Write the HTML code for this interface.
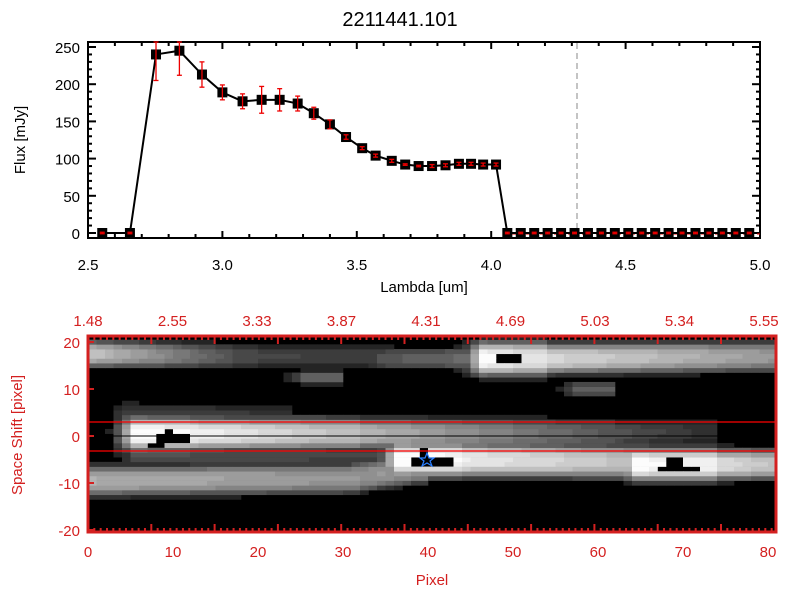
<!DOCTYPE html>
<html><head><meta charset="utf-8">
<style>
body{margin:0;background:#fff;}
svg text{font-family:"Liberation Sans",sans-serif;}
</style></head>
<body>
<svg id="c" width="800" height="600" xmlns="http://www.w3.org/2000/svg">
<rect width="800" height="600" fill="#fff"/>
<text x="400" y="26" font-size="20" text-anchor="middle">2211441.101</text>
<g id="topPlot"></g>
<g id="botPlot"></g>
</svg>
<script>
const lambdas=[2.553,2.656,2.753,2.84,2.924,3.0,3.075,3.146,3.213,3.28,3.34,3.40,3.46,3.52,3.57,3.63,3.68,3.73,3.78,3.83,3.88,3.925,3.97,4.018,4.06,4.11,4.16,4.21,4.26,4.31,4.36,4.41,4.46,4.51,4.56,4.61,4.66,4.71,4.76,4.81,4.86,4.91,4.96];
const flux=[0,0,240,245,213,189,177,179,179,174,161,146,129,114,104,97,92,90,90,91,93,93,92,92,0,0,0,0,0,0,0,0,0,0,0,0,0,0,0,0,0,0,0];
const ferr=[1,1,35,33,17,10,10,18,15,10,8,6,3,2,2,2,1,1,2,2,2,2,2,2,1,1,1,1,1,1,1,1,1,1,1,1,1,1,1,1,1,1,1];
const xTicks=["2.5","3.0","3.5","4.0","4.5","5.0"];
const yTicks=["0","50","100","150","200","250"];
// [xStart,yStart,xEnd,yEnd,brightStart,brightEnd,halfWidth]
const streaks=[[0,17.5,18,17,195,70,2.6],[18,17,34,17,70,60,2.2],[34,16.5,46,16.5,85,110,2.2],
[46,16.5,52,16.5,255,230,3.4],[52,16.5,81,17,220,150,3],
[4,1,22,1,90,70,5.5],[5,0.5,10,0.5,255,250,3.4],[10,0.5,30,0.5,250,190,3.2],[30,0.5,60,0.5,190,90,3],[60,0.5,72,1,90,50,2.5],
[0,-9.5,30,-9,175,150,3],[30,-9,38,-7,150,150,3],[5,-4,35,-4,80,70,2],
[36,-5,42,-5,255,250,3.5],[42,-5,64,-5.5,240,190,3.3],[64,-6,72,-6,255,240,3.3],[72,-6,81,-6,230,190,3],
[25,12.5,28,12.5,95,95,1.4],[57,10,60,10,95,95,1.4]];
// [colMin,colMax,rowMin,rowMax]
const cores=[[8,11,-1,0],[7,8,-2,-2],[9,9,1,1],[48,50,16,17],[38,42,-6,-5],[39,39,-4,-3],[67,71,-7,-7],[68,69,-6,-5]];
const ns="http://www.w3.org/2000/svg";
function el(p,t,a){const e=document.createElementNS(ns,t);for(const k in a)e.setAttribute(k,a[k]);p.appendChild(e);return e;}
const topG=document.getElementById('topPlot');
const X0=88,X1=760,Y0=233,Y1=47;
const sx=v=>X0+(v-2.5)/2.5*(X1-X0);
const sy=v=>Y0+(v)/250*(Y1-Y0);
const fr=el(topG,'rect',{x:X0,y:42,width:X1-X0,height:196,fill:'none',stroke:'#000','stroke-width':2});


for(let i=0;i<=25;i++){const x=X0+i*(X1-X0)/25;const L=i%5==0?7:4;
 el(topG,'line',{x1:x,y1:238,x2:x,y2:238-L,stroke:'#000','stroke-width':2});
 el(topG,'line',{x1:x,y1:42,x2:x,y2:42+L,stroke:'#000','stroke-width':2});}
xTicks.forEach((t,i)=>{const tx=el(topG,'text',{x:sx(+t),y:270,'font-size':15,'text-anchor':'middle'});tx.textContent=t;
 
 });
for(let v=0;v<=260;v+=10){const y=sy(v);if(y<42)break;const L=v%50==0?8:4;
 el(topG,'line',{x1:X0,y1:y,x2:X0+L,y2:y,stroke:'#000','stroke-width':2});
 el(topG,'line',{x1:X1,y1:y,x2:X1-L,y2:y,stroke:'#000','stroke-width':2});}
yTicks.forEach(t=>{const tx=el(topG,'text',{x:80,y:sy(+t)+6,'font-size':15,'text-anchor':'end'});tx.textContent=t;
 
 });
let t1=el(topG,'text',{x:424,y:292,'font-size':15,'text-anchor':'middle'});t1.textContent='Lambda [um]';


let t2=el(topG,'text',{x:0,y:0,'font-size':15,'text-anchor':'middle',transform:'translate(25,140) rotate(-90)'});t2.textContent='Flux [mJy]';


el(topG,'line',{x1:577,y1:43,x2:577,y2:237,stroke:'#888','stroke-dasharray':'6,4','stroke-width':1});
el(topG,'line',{x1:505,y1:234,x2:760,y2:234,stroke:'#e00','stroke-dasharray':'4,3','stroke-width':1});
let pts=lambdas.map((l,i)=>sx(l)+','+sy(flux[i])).join(' ');
const pl=el(topG,'polyline',{points:pts,fill:'none',stroke:'#000','stroke-width':2});


lambdas.forEach((l,i)=>{const x=sx(l),y=sy(flux[i]);
 const m=el(topG,'rect',{x:x-5,y:y-5,width:10,height:10,fill:'#000'});
 
 
 const y1=Math.max(sy(flux[i]+ferr[i]),42),y2=sy(flux[i]-ferr[i]);
 el(topG,'line',{x1:x,y1:y1,x2:x,y2:y2,stroke:'#e00','stroke-width':1.3});
 el(topG,'line',{x1:x-2.5,y1:y1,x2:x+2.5,y2:y1,stroke:'#e00','stroke-width':1.3});
 el(topG,'line',{x1:x-2.5,y1:y2,x2:x+2.5,y2:y2,stroke:'#e00','stroke-width':1.3});
});
const botG=document.getElementById('botPlot');
const R='#d42020';
const BX0=88,PX=8.5,BY0=436,PY=4.7;
const bx=p=>BX0+p*PX, by=s=>BY0-s*PY;
el(botG,'rect',{x:88,y:336,width:688,height:196,fill:'#000'});
for(let c=0;c<81;c++){for(let r=-21;r<=21;r++){
 let v=0;
 streaks.forEach(s=>{const[xa,ya,xb,yb,ba,bb,w]=s;if(c<xa-3||c>xb+1)return;
  let t=(c-xa)/(xb-xa);let ramp=1;if(t<0){ramp=Math.max(0,1+(c-xa)/3);t=0;}if(t>1)t=1;
  const yc=ya+(yb-ya)*t,b=ba+(bb-ba)*t;const d=Math.abs(r-yc)/w;v=Math.max(v,b*ramp*Math.exp(-Math.pow(d,3)/1.2));});
 let core=false;cores.forEach(k=>{if(c>=k[0]&&c<=k[1]&&r>=k[2]&&r<=k[3])core=true;});
 if(core)v=0;
 v=Math.round(v/12)*12;
 if(v<36)continue;v=Math.min(255,v);
 const cell=el(botG,'rect',{x:bx(c),y:by(r+0.5),width:PX+0.3,height:PY+0.3,fill:`rgb(${v},${v},${v})`});
 
 
}}
el(botG,'line',{x1:88,y1:422,x2:776,y2:422,stroke:'#f00','stroke-width':1.3});
el(botG,'line',{x1:88,y1:451,x2:776,y2:451,stroke:'#f00','stroke-width':1.3});
el(botG,'line',{x1:88,y1:436,x2:776,y2:436,stroke:'#000','stroke-width':1});
const st=el(botG,'polygon',{points:'427,453 429,458 434,458 430,461 432,466 427,463 422,466 424,461 420,458 425,458',fill:'none',stroke:'#2a7fff','stroke-width':1.2});


const bf=el(botG,'rect',{x:88,y:336,width:688,height:196,fill:'none',stroke:R,'stroke-width':3});


for(let i=0;i<=108;i++){const x=88+i*6.33;if(x>776)break;const L=i%10==0?8:4;
 el(botG,'line',{x1:x,y1:532,x2:x,y2:532-L,stroke:R,'stroke-width':2});
 el(botG,'line',{x1:x,y1:336,x2:x,y2:336+L,stroke:R,'stroke-width':2});}
[20,10,0,-10,-20].forEach(v=>{const y=by(v);el(botG,'line',{x1:88,y1:y,x2:94,y2:y,stroke:R,'stroke-width':2});
 const t=el(botG,'text',{x:80,y:y+6,'font-size':15,'text-anchor':'end',fill:R});t.textContent=v;
 
 });
const pixLabels=["0","10","20","30","40","50","60","70","80"];
pixLabels.forEach(p=>{const t=el(botG,'text',{x:bx(+p),y:557,'font-size':15,'text-anchor':'middle',fill:R});t.textContent=p;
 
 });
const lamLabels=["1.48","2.55","3.33","3.87","4.31","4.69","5.03","5.34","5.55"];
lamLabels.forEach((p,i)=>{const t=el(botG,'text',{x:88+i*84.5,y:326,'font-size':15,'text-anchor':'middle',fill:R});t.textContent=p;
 
 });
let t3=el(botG,'text',{x:432,y:585,'font-size':15,'text-anchor':'middle',fill:R});t3.textContent='Pixel';


let t4=el(botG,'text',{x:0,y:0,'font-size':15,'text-anchor':'middle',fill:R,transform:'translate(22,435) rotate(-90)'});t4.textContent='Space Shift [pixel]';


</script>
</body></html>
